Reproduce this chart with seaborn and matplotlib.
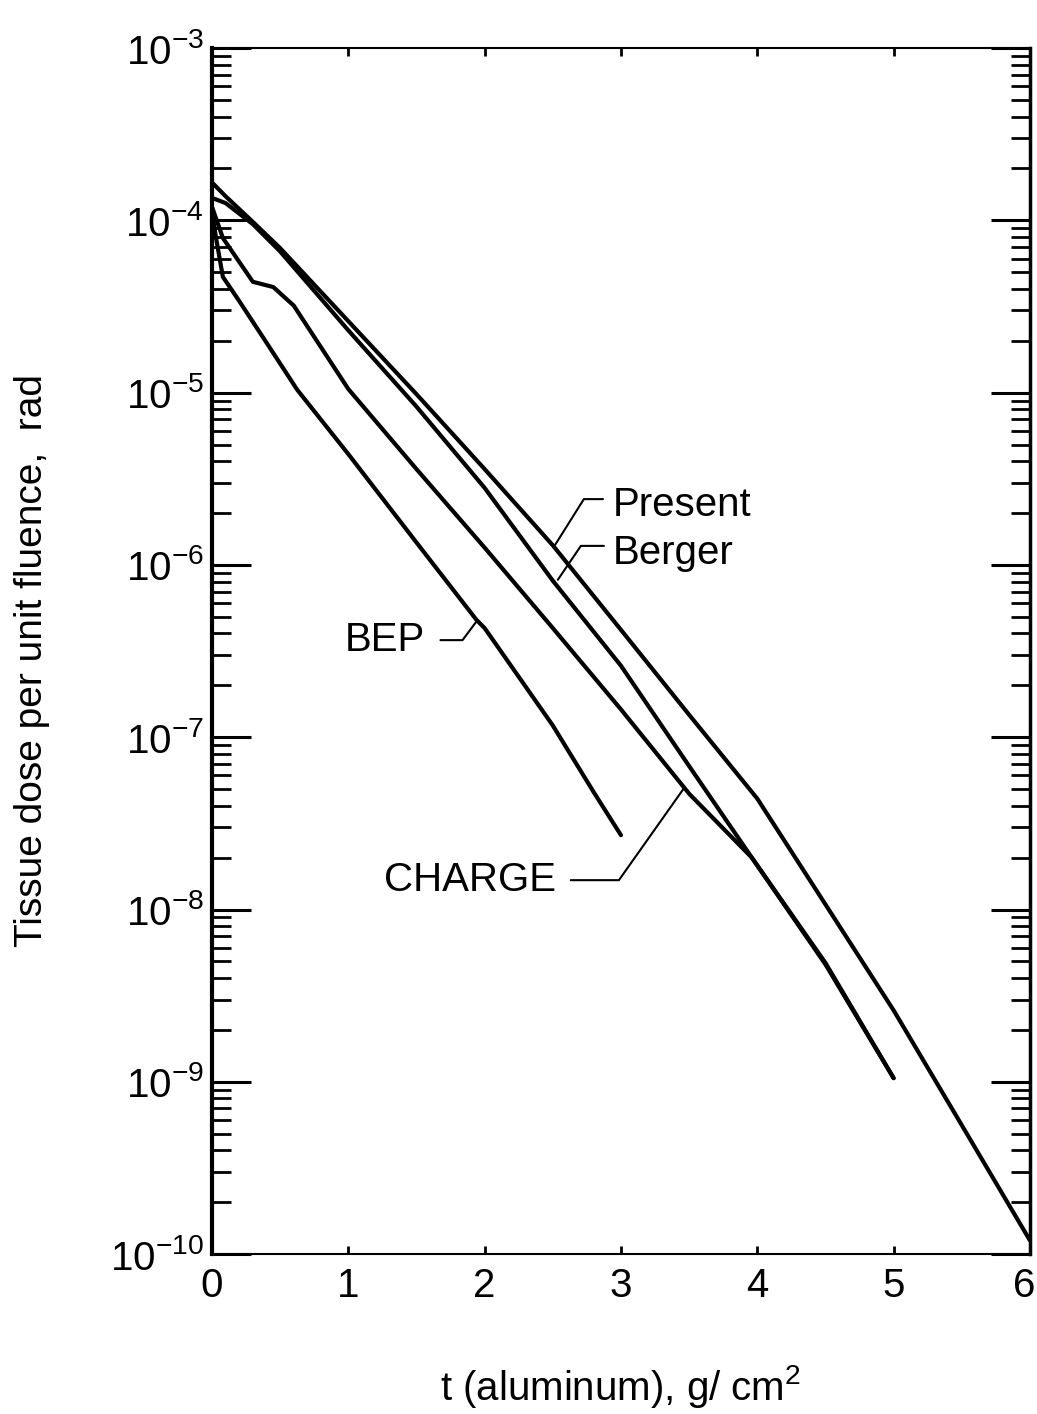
import matplotlib
matplotlib.use('Agg')
import matplotlib.pyplot as plt
import matplotlib.ticker as mticker
from matplotlib.transforms import ScaledTranslation
import seaborn as sns
import pandas as pd
import numpy as np

# Curves (t in g/cm^2, dose in rad)
present_t = [0, 0.1, 0.3, 0.5, 1.0, 1.5, 2.0, 2.5, 3.0, 3.5, 4.0, 4.5, 5.0, 5.5, 6.0]
present_dose = [1.66e-4, 1.38e-4, 9.8e-5, 6.9e-5, 2.6e-5, 9.8e-6, 3.6e-6, 1.3e-6,
                4.2e-7, 1.35e-7, 4.4e-8, 1.07e-8, 2.6e-9, 5.6e-10, 1.2e-10]

berger_t = [0, 0.1, 0.3, 0.5, 1.0, 1.5, 2.0, 2.5, 3.0, 3.5, 3.96, 4.5, 5.0]
berger_dose = [1.35e-4, 1.26e-4, 9.5e-5, 6.6e-5, 2.3e-5, 8.3e-6, 2.8e-6, 8.1e-7,
               2.6e-7, 6.8e-8, 2.0e-8, 4.8e-9, 1.05e-9]

charge_t = [0, 0.08, 0.3, 0.45, 0.6, 1.0, 1.5, 2.0, 2.5, 3.0, 3.5, 3.96, 4.5, 5.0]
charge_dose = [1.2e-4, 7.9e-5, 4.4e-5, 4.1e-5, 3.2e-5, 1.05e-5, 3.6e-6, 1.26e-6,
               4.3e-7, 1.45e-7, 4.7e-8, 2.0e-8, 4.9e-9, 1.05e-9]

bep_t = [0, 0.03, 0.08, 0.2, 0.4, 0.625, 1.0, 1.5, 1.94, 2.0, 2.5, 2.8, 3.0]
bep_dose = [1.12e-4, 7.9e-5, 4.7e-5, 3.4e-5, 1.95e-5, 1.04e-5, 4.4e-6, 1.35e-6,
            4.8e-7, 4.3e-7, 1.17e-7, 4.8e-8, 2.7e-8]

x_ticks = [0, 1, 2, 3, 4, 5, 6]
y_exponents = [-10, -9, -8, -7, -6, -5, -4, -3]

frames = []
for name, t, d in [('Present', present_t, present_dose), ('Berger', berger_t, berger_dose),
                   ('CHARGE', charge_t, charge_dose), ('BEP', bep_t, bep_dose)]:
    frames.append(pd.DataFrame({'t': t, 'dose': d, 'code': name}))
df = pd.concat(frames, ignore_index=True)

sns.set_style('ticks')
plt.rcParams['font.family'] = ['Liberation Sans', 'DejaVu Sans']
plt.rcParams['mathtext.default'] = 'regular'
for key in ['text.color', 'axes.labelcolor', 'xtick.color', 'ytick.color', 'axes.edgecolor']:
    plt.rcParams[key] = 'black'

fig = plt.figure(figsize=(10.37, 14.14), dpi=100)
ax = fig.add_axes([0.2044, 0.1131, 0.7888, 0.8529])
ax.set_yscale('log')

sns.lineplot(data=df, x='t', y='dose', hue='code',
             palette={'Present': 'black', 'Berger': 'black', 'CHARGE': 'black', 'BEP': 'black'},
             estimator=None, sort=False, legend=False, linewidth=3, ax=ax)

ax.set_xlim(0, 6)
ax.set_ylim(1e-10, 1e-3)
ax.set_xticks(x_ticks)
ax.set_xticklabels([str(v) for v in x_ticks])

major_y = [10.0 ** e for e in y_exponents]
minor_y = [k * 10.0 ** e for e in y_exponents[:-1] for k in range(2, 10)]
ax.yaxis.set_major_locator(mticker.FixedLocator(major_y))
ax.yaxis.set_minor_locator(mticker.FixedLocator(minor_y))
ax.yaxis.set_major_formatter(mticker.FixedFormatter([r'$10^{%d}$' % e for e in y_exponents]))
ax.yaxis.set_minor_formatter(mticker.NullFormatter())

ax.tick_params(axis='y', which='major', direction='in', left=True, right=True,
               length=28, width=2.2, labelsize=29, pad=6)
ax.tick_params(axis='y', which='minor', direction='in', left=True, right=True,
               length=14, width=2)
ax.tick_params(axis='x', which='major', direction='in', top=True, bottom=True,
               length=6, width=2, labelsize=29, pad=9)

for side, lw in [('left', 3), ('right', 2.5), ('top', 1.5), ('bottom', 1.5)]:
    ax.spines[side].set_visible(True)
    ax.spines[side].set_linewidth(lw)
    ax.spines[side].set_color('black')

ax.set_xlabel(r't (aluminum), g/ cm$^{2}$', fontsize=29)
ax.xaxis.set_label_coords(0.5, -0.09)
ax.set_ylabel('Tissue dose per unit fluence,  rad', fontsize=28)
ax.yaxis.set_label_coords(-0.198, 0.4925)

# Curve labels with leader lines
ax.plot([2.868, 2.728, 2.507], [2.41e-6, 2.41e-6, 1.27e-6], color='black', lw=1.5)
ax.text(2.94, 2.23e-6, 'Present', fontsize=29, va='center', ha='left')
ax.plot([2.875, 2.706, 2.537], [1.29e-6, 1.29e-6, 8.2e-7], color='black', lw=1.5)
ax.text(2.94, 1.17e-6, 'Berger', fontsize=29, va='center', ha='left')
ax.plot([1.676, 1.838, 1.949], [3.66e-7, 3.66e-7, 4.8e-7], color='black', lw=1.5)
ax.text(1.566, 3.66e-7, 'BEP', fontsize=29, va='center', ha='right')
ax.plot([2.632, 2.985, 3.463], [1.48e-8, 1.48e-8, 5.07e-8], color='black', lw=1.5)
ax.text(2.52, 1.48e-8, 'CHARGE', fontsize=29, va='center', ha='right')

# keep the last x tick label inside the canvas
fig.canvas.draw()
last = ax.get_xticklabels()[-1]
last.set_transform(last.get_transform() + ScaledTranslation(-0.06, 0, fig.dpi_scale_trans))

fig.savefig('out.png', dpi=100)
